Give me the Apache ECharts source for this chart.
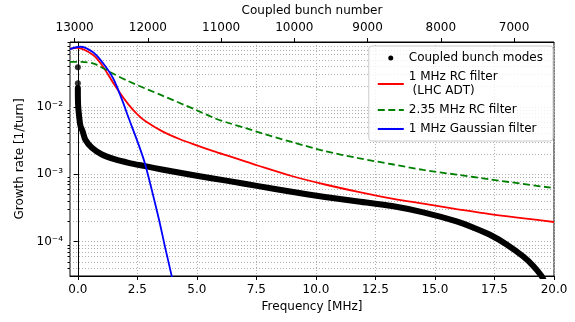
<!DOCTYPE html>
<html>
<head>
<meta charset="utf-8">
<script src="https://cdn.jsdelivr.net/npm/echarts@6/dist/echarts.min.js"></script>
<style>
  html, body { margin: 0; padding: 0; background: #fff; }
  #chart { width: 575px; height: 322px; }
</style>
</head>
<body>
<div id="chart"></div>
<script>
// values (frequency in MHz, growth rate in 1/turn)
const dotFreq = [0, 0]
const dotRate = [0.0387, 0.0224]

const modeFreq = [0, 0.01, 0.06, 0.11, 0.2, 0.31, 0.59, 1.01, 1.57, 2.13, 2.83, 3.53, 4.93, 6.3, 7.58, 8.98, 10.38, 11.78, 13.2, 14.51, 15.91, 16.61, 17.31, 18.01, 18.71, 19.13, 19.48, 19.6]
const modeRate = [0.019, 0.0108, 0.0069, 0.0052, 0.00436, 0.00328, 0.00247, 0.00197, 0.00166, 0.00148, 0.00132, 0.00118, 0.00096, 0.0008, 0.000668, 0.00055, 0.000462, 0.000394, 0.000338, 0.000272, 0.0002, 0.000162, 0.000127, 0.0000912, 0.0000603, 0.0000437, 0.0000309, 0.0000251]

const rcFreq = [-0.33, -0.04, 0.64, 1.06, 1.57, 2.13, 2.5, 2.83, 3.53, 4.29, 4.99, 5.69, 6.39, 7.09, 7.58, 8.98, 10.38, 11.78, 13.2, 14.51, 15.91, 17.31, 20]
const rcRate = [0.0723, 0.0753, 0.0589, 0.0395, 0.0204, 0.0108, 0.00776, 0.00617, 0.00437, 0.00331, 0.00269, 0.00221, 0.00184, 0.00153, 0.00134, 0.000944, 0.000706, 0.00055, 0.000437, 0.000367, 0.000305, 0.000256, 0.000196]

const rc235Freq = [-0.33, 0.17, 0.7, 1.43, 2.13, 3.53, 4.93, 5.69, 6.3, 7.09, 7.58, 8.98, 10.38, 11.78, 13.2, 14.51, 15.91, 17.31, 20]
const rc235Rate = [0.0466, 0.0464, 0.0435, 0.0318, 0.024, 0.0148, 0.00912, 0.00692, 0.00582, 0.00479, 0.00422, 0.00302, 0.00221, 0.00174, 0.00141, 0.00116, 0.000989, 0.000841, 0.000624]

const gaussFreq = [-0.33, 0.1, 0.64, 1.06, 1.48, 1.85, 2.13, 2.55, 2.83, 3.39, 3.67, 3.95, 4.05]
const gaussRate = [0.072, 0.078, 0.0646, 0.0444, 0.0266, 0.0129, 0.0069, 0.00277, 0.0014, 0.000227, 0.000081, 0.00003, 0.00002]

const freqTicks = [0, 2.5, 5, 7.5, 10, 12.5, 15, 17.5, 20]
const bunchTicks = [7000, 8000, 9000, 10000, 11000, 12000, 13000]
const rateTicks = [1e-4, 1e-3, 1e-2]

const seriesNames = ['Coupled bunch modes', '1 MHz RC filter\n (LHC ADT)', '2.35 MHz RC filter', '1 MHz Gaussian filter']

// minor log ticks 2..9 x 10^k
const minorRateTicks = []
for (let k = -5; k <= -2; k++) {
  for (let m = 2; m <= 9; m++) minorRateTicks.push(+(m * Math.pow(10, k)).toPrecision(3))
}

const zip = (xs, ys) => xs.map((x, i) => [x, ys[i]])

const supMap = { '-': '\u207b', '0': '\u2070', '1': '\u00b9', '2': '\u00b2', '3': '\u00b3', '4': '\u2074', '5': '\u2075' }
function powLabel(v) {
  const e = Math.round(Math.log10(v))
  return '10' + String(e).split('').map(c => supMap[c]).join('')
}

const font = 'DejaVu Sans'
const gridLine = { show: true, lineStyle: { color: '#b0b0b0', type: [1, 2], width: 1 } }
const black = { color: '#000' }

const chart = echarts.init(document.getElementById('chart'))

const option = {
  animation: false,
  textStyle: { fontFamily: font, color: '#000' },
  grid: { left: 70, right: 21, top: 42, bottom: 46, show: true, borderColor: '#000', borderWidth: 1 },
  legend: {
    orient: 'vertical',
    right: 22,
    top: 46,
    itemWidth: 26,
    itemHeight: 5,
    itemGap: 5,
    padding: [5, 10, 5, 8],
    borderColor: '#cccccc',
    borderWidth: 1,
    borderRadius: 3,
    backgroundColor: 'rgba(255,255,255,0.8)',
    textStyle: { fontSize: 12, lineHeight: 14, color: '#000', fontFamily: font },
    itemStyle: { opacity: 0 },
    data: [
      { name: seriesNames[0], icon: 'circle', itemStyle: { opacity: 1, color: '#000' } },
      seriesNames[1], seriesNames[2], seriesNames[3]
    ]
  },
  xAxis: [
    {
      type: 'value',
      position: 'bottom',
      min: -0.33,
      max: 20,
      name: 'Frequency [MHz]',
      nameLocation: 'middle',
      nameGap: 25,
      nameTextStyle: { fontSize: 12, color: '#000' },
      axisLine: { onZero: false, lineStyle: black },
      axisTick: { customValues: freqTicks, length: 4, lineStyle: black },
      axisLabel: { customValues: freqTicks, formatter: v => v.toFixed(1), fontSize: 12, color: '#000', margin: 8 },
      splitLine: gridLine
    },
    {
      type: 'value',
      position: 'top',
      inverse: true,
      min: 6454,
      max: 13063,
      name: 'Coupled bunch number',
      nameLocation: 'middle',
      nameGap: 23,
      nameTextStyle: { fontSize: 12, color: '#000' },
      axisLine: { onZero: false, lineStyle: black },
      axisTick: { customValues: bunchTicks, length: 4, lineStyle: black },
      axisLabel: { customValues: bunchTicks, formatter: v => String(v), fontSize: 12, color: '#000', margin: 8 },
      splitLine: { show: false }
    }
  ],
  yAxis: [
    {
      type: 'log',
      logBase: 10,
      min: 3.1e-5,
      max: 0.0918,
      position: 'left',
      name: 'Growth rate [1/turn]',
      nameLocation: 'middle',
      nameGap: 42,
      nameTextStyle: { fontSize: 12, color: '#000' },
      axisLine: { show: true, lineStyle: black },
      axisTick: { customValues: rateTicks, length: 4, lineStyle: black },
      axisLabel: { customValues: rateTicks, formatter: powLabel, fontSize: 12, color: '#000', margin: 7 },
      splitLine: gridLine
    },
    {
      type: 'log',
      logBase: 10,
      min: 3.1e-5,
      max: 0.0918,
      position: 'left',
      axisLine: { show: false },
      axisTick: { show: true, customValues: minorRateTicks, length: 2.5, lineStyle: black },
      axisLabel: { show: false },
      splitLine: gridLine
    }
  ],
  series: [
    {
      name: seriesNames[0],
      type: 'scatter',
      data: zip(dotFreq, dotRate),
      symbolSize: 6,
      itemStyle: { color: '#000' }
    },
    {
      name: seriesNames[0],
      type: 'line',
      data: zip(modeFreq, modeRate),
      symbol: 'none',
      smooth: 0.3,
      color: '#000',
      lineStyle: { color: '#000', width: 6, cap: 'round', join: 'round' }
    },
    {
      name: seriesNames[1],
      type: 'line',
      data: zip(rcFreq, rcRate),
      symbol: 'none',
      smooth: 0.3,
      color: '#ff0000',
      lineStyle: { color: '#ff0000', width: 1.8 }
    },
    {
      name: seriesNames[2],
      type: 'line',
      data: zip(rc235Freq, rc235Rate),
      symbol: 'none',
      smooth: 0.3,
      color: '#008000',
      lineStyle: { color: '#008000', width: 1.8, type: [7, 3.5] }
    },
    {
      name: seriesNames[3],
      type: 'line',
      data: zip(gaussFreq, gaussRate),
      symbol: 'none',
      smooth: 0.3,
      color: '#0000ff',
      lineStyle: { color: '#0000ff', width: 1.8 }
    }
  ]
}

chart.setOption(option)
</script>
</body>
</html>
